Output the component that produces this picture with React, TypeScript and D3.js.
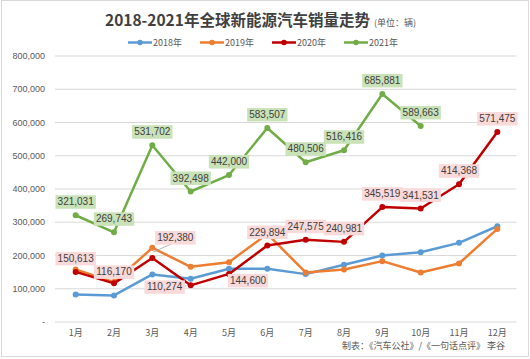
import React from 'react';
import * as d3 from 'd3';

const months = ['1月', '2月', '3月', '4月', '5月', '6月', '7月', '8月', '9月', '10月', '11月', '12月'];
const yTicks = [0, 100000, 200000, 300000, 400000, 500000, 600000, 700000, 800000];
const seriesNames = ['2018年', '2019年', '2020年', '2021年'];
const seriesColors = ['#5b9bd5', '#ed7d31', '#c00000', '#70ad47'];

const sales2018 = [83000, 80000, 143000, 130000, 160000, 160000, 144000, 172000, 200000, 210000, 238000, 288000];
const sales2019 = [158000, 120000, 223000, 166000, 180000, 265000, 149000, 158000, 183000, 149000, 176000, 280000];
const sales2020 = [150613, 116170, 192380, 110274, 144600, 229894, 247575, 240981, 345519, 341531, 414368, 571475];
const sales2021 = [321031, 269743, 531702, 392498, 442000, 583507, 480506, 516416, 685881, 589663];

// label offsets (dx, dy) relative to default position above point, for 2020 series
const labelShift2020: [number, number][] = [
  [0, 0], [0, 2], [23, -7], [-26, 15], [19, 20], [0, 0],
  [0, 0], [0, 0], [0, 0], [0, 0], [0, 0], [0, 0],
];

const W = 530;
const H = 359;

export default function App() {
  const x = d3.scaleBand<string>().domain(months).range([56.5, 516.5]);
  const y = d3.scaleLinear().domain([0, 800000]).range([322, 56]);
  const cx = (i: number) => (x(months[i]) as number) + x.bandwidth() / 2;
  const fmt = d3.format(',');
  const allSeries = [sales2018, sales2019, sales2020, sales2021];
  const line = d3
    .line<number>()
    .x((_, i) => cx(i))
    .y((d) => y(d));

  const numFont = '"Liberation Sans", Arial, sans-serif';
  const cjkFont = '"Noto Sans CJK SC", sans-serif';

  const renderLabel = (v: number, i: number, bg: string, dx: number, dy: number, key: string) => {
    const px = cx(i);
    const py = y(v);
    const lx = px + dx;
    const ly = py - 13.5 + dy;
    const text = fmt(v);
    const w = text.length * 5.2 + 4;
    return (
      <g key={key}>
        <rect x={lx - w / 2} y={ly - 6.5} width={w} height={13.5} fill={bg} />
        <text x={lx} y={ly + 3.6} textAnchor="middle" fontSize={10} fontFamily={numFont} fill="#404040">
          {text}
        </text>
      </g>
    );
  };

  return (
    <svg width={W} height={H} style={{ position: 'absolute', left: 0, top: 0, background: '#fff' }}>
      <rect x={1.5} y={0.5} width={W - 3} height={H - 3} fill="#fff" stroke="#d9d9d9" />
      {/* title */}
      <text x={105} y={26} fontSize={15.5} fontWeight="bold" fontFamily={cjkFont} fill="#404040">
        2018-2021年全球新能源汽车销量走势
        <tspan fontSize={9} fontWeight="normal" dx={4} fill="#595959">(单位：辆)</tspan>
      </text>
      {/* legend */}
      {seriesNames.map((n, k) => {
        const lx = 128 + k * 72;
        return (
          <g key={n}>
            <line x1={lx} x2={lx + 24} y1={42.5} y2={42.5} stroke={seriesColors[k]} strokeWidth={2.5} />
            <circle cx={lx + 12} cy={42.5} r={2.8} fill={seriesColors[k]} />
            <text x={lx + 25} y={46} fontSize={9} fontFamily={cjkFont} fill="#595959">
              {n}
            </text>
          </g>
        );
      })}
      {/* gridlines and y axis */}
      {yTicks.map((t) => (
        <g key={t}>
          <line x1={55} x2={516.5} y1={y(t)} y2={y(t)} stroke="#d9d9d9" strokeWidth={1} />
          <text x={45} y={y(t) + 3.2} textAnchor="end" fontSize={9} fontFamily={numFont} fill="#595959">
            {t === 0 ? '-' : fmt(t)}
          </text>
        </g>
      ))}
      {/* x axis labels */}
      {months.map((m, i) => (
        <text key={m} x={cx(i)} y={336} textAnchor="middle" fontSize={9} fontFamily={cjkFont} fill="#595959">
          {m}
        </text>
      ))}
      {/* lines */}
      {allSeries.map((s, k) => (
        <g key={k}>
          <path d={line(s) || ''} fill="none" stroke={seriesColors[k]} strokeWidth={2.5} strokeLinejoin="round" />
          {s.map((v, i) => (
            <circle key={i} cx={cx(i)} cy={y(v)} r={3} fill={seriesColors[k]} />
          ))}
        </g>
      ))}
      {/* leader lines */}
      <line x1={cx(2) + 1} y1={y(sales2020[2]) - 6} x2={cx(2) + 20} y2={y(sales2020[2]) - 14.5} stroke="#a6a6a6" strokeWidth={0.8} />
      <line x1={cx(3) - 10} y1={y(sales2020[3]) + 1.5} x2={cx(3) - 4} y2={y(sales2020[3]) + 0.5} stroke="#a6a6a6" strokeWidth={0.8} />
      {/* data labels */}
      {sales2020.map((v, i) =>
        renderLabel(v, i, '#f9d9d9', labelShift2020[i][0], labelShift2020[i][1], 'r' + i)
      )}
      {sales2021.map((v, i) => renderLabel(v, i, '#c9e2b8', 0, 0, 'g' + i))}
      {/* footer */}
      <text x={505} y={349} textAnchor="end" fontSize={9} fontFamily={cjkFont} fill="#595959">
        制表：《汽车公社》/《一句话点评》 李谷
      </text>
    </svg>
  );
}
